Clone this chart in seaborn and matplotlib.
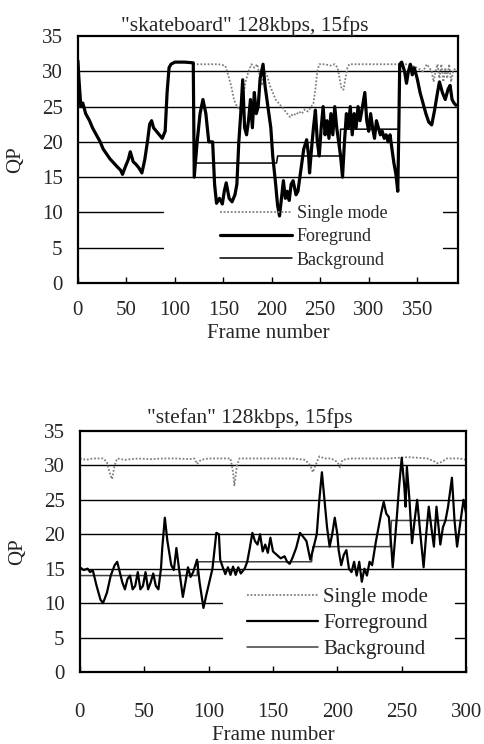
import matplotlib.pyplot as plt
import seaborn as sns
import pandas as pd

# ---- "skateboard" panel ----
skate_fg_frame = [0, 1, 3, 5, 8, 12, 15, 19, 23, 26, 30, 33, 37, 41, 44, 46, 49, 52, 54, 57,
                  60, 63, 66, 69, 72, 74, 76, 78, 81, 84, 87, 90, 92, 94, 96, 100, 110, 119, 120, 123,
                  126, 129, 132, 135, 139, 141, 143, 146, 149, 151, 153, 156, 159, 162, 164, 166, 168, 170, 172, 174,
                  176, 178, 180, 182, 184, 186, 188, 191, 193, 196, 199, 201, 204, 206, 208, 210, 212, 214, 216, 218,
                  220, 222, 225, 227, 229, 231, 233, 236, 238, 239, 241, 243, 245, 247, 249, 251, 253, 255, 257, 259,
                  261, 263, 265, 267, 269, 271, 273, 275, 277, 279, 281, 283, 285, 287, 289, 291, 293, 296, 298, 300,
                  302, 304, 306, 308, 310, 312, 314, 316, 318, 320, 322, 324, 326, 328, 330, 331, 332, 334, 337, 339,
                  341, 343, 345, 347, 350, 353, 356, 359, 362, 365, 368, 371, 373, 376, 379, 382, 384, 386, 388, 390]
skate_fg_qp = [31.5, 29, 25, 25.5, 24, 23, 22, 21, 20, 19, 18.2, 17.6, 17, 16.4, 16, 15.4, 16.5, 17.5, 18.6, 17.2,
               16.8, 16.3, 15.6, 17.5, 20.3, 22.5, 23, 22, 21.5, 21, 20.5, 21.5, 27, 30.5, 31, 31.3, 31.3, 31.2, 15, 20,
               24, 26, 24, 20, 20, 14, 11.3, 12, 11.2, 13, 14.2, 12, 11.5, 12.5, 14, 20, 24, 28.8, 22, 21,
               23, 26, 22, 27, 24, 25, 29, 31, 28, 25, 22, 18, 14, 11, 9.5, 12, 14.5, 12, 13, 11.7,
               14, 14.5, 12.5, 13, 15, 17, 19, 20.3, 18, 15.6, 19, 22, 24.5, 20, 18, 22, 25, 21, 23, 20.5,
               24, 21, 25, 22, 20, 18, 15, 20, 24, 22, 25, 21, 24, 22, 25, 23, 24.5, 27, 23, 21.5,
               24, 22, 20.5, 23, 22, 21, 21.5, 20.5, 21, 20, 21, 19, 17, 15.5, 13, 21, 31, 31.3, 30, 28.3,
               30, 31, 29.5, 30.5, 29, 27, 25.5, 24, 22.8, 22.4, 24.5, 27, 28.5, 27, 26, 27.5, 28, 26, 25.5, 25.2]

skate_bg_frame = [119, 120, 205, 206, 270, 271, 331, 332]
skate_bg_qp = [31.2, 17, 17, 18, 18, 21.8, 21.8, 31]

skate_single_frame = [119, 130, 145, 152, 155, 158, 161, 164, 167, 170, 173, 176, 179, 182, 185, 188, 190, 192, 195, 198,
                      201, 204, 207, 210, 213, 216, 219, 222, 225, 228, 231, 234, 237, 240, 243, 245, 247, 249, 255, 260,
                      265, 268, 270, 272, 274, 276, 278, 280, 290, 300, 310, 320, 332, 340, 350, 356, 360, 365, 367, 369,
                      371, 373, 375, 377, 379, 381, 383, 385, 387, 390]
skate_single_qp = [31, 31, 31, 30.8, 29.5, 28, 26, 25, 24.5, 26, 28.5, 30, 31, 30.5, 31, 29, 28, 30, 29.5, 28,
                   27, 26, 25.5, 25, 24.5, 24, 23.5, 24, 23.8, 24.3, 24, 24.6, 24.3, 24.8, 25.5, 27.5, 30, 31, 31, 30.8,
                   31, 30.5, 29, 27.5, 27.4, 29, 30.5, 31, 31, 31, 31, 31, 31, 31, 30.5, 30, 31, 30, 28.5, 30,
                   31, 29, 31, 28.5, 30.5, 29, 31, 28.5, 30, 30.5]

# ---- "stefan" panel ----
stefan_fg_frame = [0, 3, 6, 8, 10, 13, 16, 18, 21, 24, 27, 29, 31, 33, 35, 37, 39, 41, 43, 45,
                   47, 49, 51, 53, 55, 57, 59, 61, 63, 64, 66, 68, 71, 73, 75, 77, 80, 82, 84, 86,
                   88, 91, 93, 96, 98, 101, 103, 106, 108, 109, 111, 113, 115, 117, 119, 121, 123, 125, 128, 130,
                   132, 134, 136, 138, 140, 142, 144, 146, 148, 150, 153, 156, 159, 161, 163, 165, 168, 171, 174, 176,
                   179, 181, 184, 186, 188, 190, 192, 194, 196, 198, 200, 201, 203, 205, 207, 209, 211, 213, 215, 217,
                   219, 221, 223, 225, 227, 230, 232, 234, 236, 238, 240, 242, 243, 246, 248, 250, 252, 253, 254, 256,
                   258, 260, 262, 265, 267, 269, 271, 273, 275, 277, 280, 282, 284, 286, 289, 291, 293, 295, 298, 300]
stefan_fg_qp = [15.2, 14.8, 15, 14.5, 14.8, 12.5, 10.5, 10, 11.5, 14, 15.5, 16, 14.5, 13, 12, 13.5, 14, 12, 12.5, 14.5,
                12, 12.5, 14.5, 12, 13, 14.3, 12.5, 12, 15, 18, 22.4, 19, 15.5, 14.8, 18, 15, 10.9, 13, 15.2, 13.8,
                14.5, 16.3, 13, 9.3, 11, 13.4, 15, 20.2, 20, 16.3, 15.2, 14.2, 15.2, 14.1, 15.3, 14.1, 15.2, 14.3, 15, 16,
                18, 20.2, 19, 18.5, 20, 17.5, 18.5, 17.3, 19.5, 17.5, 17, 16.5, 16.8, 16, 15.7, 16.5, 18, 20.2, 19.5, 19,
                16.3, 17.7, 20, 25, 29, 25, 21, 18.2, 20, 22.4, 20, 17.7, 15.5, 17, 17.7, 15, 14.5, 16, 14, 16,
                13.1, 15, 14, 16, 15.5, 19, 21, 23, 24.7, 23, 22.5, 18, 15.2, 22, 27, 31.1, 27, 24, 29.8, 25,
                18.7, 22, 25, 19, 15.2, 20, 24, 21, 18.2, 24, 18.5, 21, 22, 24, 28.2, 22, 18.2, 21, 25, 23]

stefan_bg_frame = [0, 91, 92, 180, 181, 241, 242, 300]
stefan_bg_qp = [14, 14, 16, 16, 18.2, 18.2, 22, 22]

stefan_single_frame = [0, 5, 10, 18, 21, 23, 25, 27, 29, 35, 45, 55, 65, 75, 85, 89, 91, 94, 100, 110,
                       117, 119, 120, 122, 124, 135, 150, 165, 175, 179, 181, 183, 186, 190, 195, 200, 202, 204, 210, 225,
                       240, 255, 270, 275, 278, 281, 285, 295, 300]
stefan_single_qp = [31, 30.8, 31, 31, 30.5, 29, 28, 30, 31, 30.8, 31, 30.9, 31, 31, 30.9, 31, 30.2, 30.8, 31, 31,
                    31, 29, 27, 30, 31, 31, 31, 31, 30.8, 30, 29, 30, 31.3, 31, 31, 30.5, 29.7, 30.8, 31, 31,
                    31, 31.2, 31, 30.6, 30.3, 30.5, 31, 31, 30.8]

y_ticks = [0, 5, 10, 15, 20, 25, 30, 35]

sns.set_style('white')
plt.rcParams['font.family'] = ['Liberation Serif', 'DejaVu Serif']

fig = plt.figure(figsize=(4.84, 7.44), dpi=100)
ax1 = fig.add_axes([0.161, 0.6196, 0.785, 0.332])
ax2 = fig.add_axes([0.165, 0.0968, 0.798, 0.324])


def draw_panel(ax, single, fg, bg, labels, fg_lw, bg_color, xmax, xticks,
               gap, title, title_pad, xpad, leg_anchor, leg_fs, leg_hl, leg_ls):
    s = sns.lineplot(data=pd.DataFrame({'f': single[0], 'qp': single[1]}), x='f', y='qp', ax=ax,
                     color='0.5', lw=1.3, linestyle=(0, (1, 1)), estimator=None, sort=False)
    sns.lineplot(data=pd.DataFrame({'f': bg[0], 'qp': bg[1]}), x='f', y='qp', ax=ax,
                 color=bg_color, lw=1.1, estimator=None, sort=False)
    sns.lineplot(data=pd.DataFrame({'f': fg[0], 'qp': fg[1]}), x='f', y='qp', ax=ax,
                 color='black', lw=fg_lw, estimator=None, sort=False)
    l_single, l_bg, l_fg = ax.lines[0], ax.lines[1], ax.lines[2]

    for yv in [15, 20, 25, 30]:
        ax.axhline(yv, color='black', lw=1.0, zorder=0.5)
    for yv in [5, 10]:
        ax.axhline(yv, xmax=gap[0], color='black', lw=1.0, zorder=0.5)
        ax.axhline(yv, xmin=gap[1], color='black', lw=1.0, zorder=0.5)

    ax.set_xlim(0, xmax)
    ax.set_ylim(0, 35)
    ax.set_xticks(xticks)
    ax.set_yticks(y_ticks)
    ax.tick_params(axis='x', direction='in', length=4, width=1, color='black',
                   labelsize=15, pad=xpad, bottom=True)
    ax.tick_params(axis='y', length=0, labelsize=15, pad=11)
    for sp in ax.spines.values():
        sp.set_color('black')
        sp.set_linewidth(1.6)
    ax.set_xlabel('Frame number', fontsize=15, labelpad=3)
    ax.set_ylabel('QP', fontsize=15, labelpad=12)
    ax.set_title(title, fontsize=15.5, x=0.44, pad=title_pad)
    ax.legend([l_single, l_fg, l_bg], labels, loc='upper left', bbox_to_anchor=leg_anchor,
              frameon=False, fontsize=leg_fs, handlelength=leg_hl, handletextpad=0.25,
              labelspacing=leg_ls, borderpad=0, borderaxespad=0)


draw_panel(ax1, (skate_single_frame, skate_single_qp), (skate_fg_frame, skate_fg_qp),
           (skate_bg_frame, skate_bg_qp), ['Single mode', 'Foregrund', 'Background'],
           2.3, 'black', 392, [0, 50, 100, 150, 200, 250, 300, 350], (0.224, 0.96),
           '"skateboard" 128kbps, 15fps', 3.5, 13, (0.374, 0.316), 13, 4.0, 0.35)

draw_panel(ax2, (stefan_single_frame, stefan_single_qp), (stefan_fg_frame, stefan_fg_qp),
           (stefan_bg_frame, stefan_bg_qp), ['Single mode', 'Forreground', 'Background'],
           1.6, '0.25', 300, [0, 50, 100, 150, 200, 250, 300], (0.368, 0.97),
           '"stefan" 128kbps, 15fps', 5.5, 22, (0.433, 0.349), 15, 3.4, 0.3)

fig.savefig('out.png', dpi=100)
